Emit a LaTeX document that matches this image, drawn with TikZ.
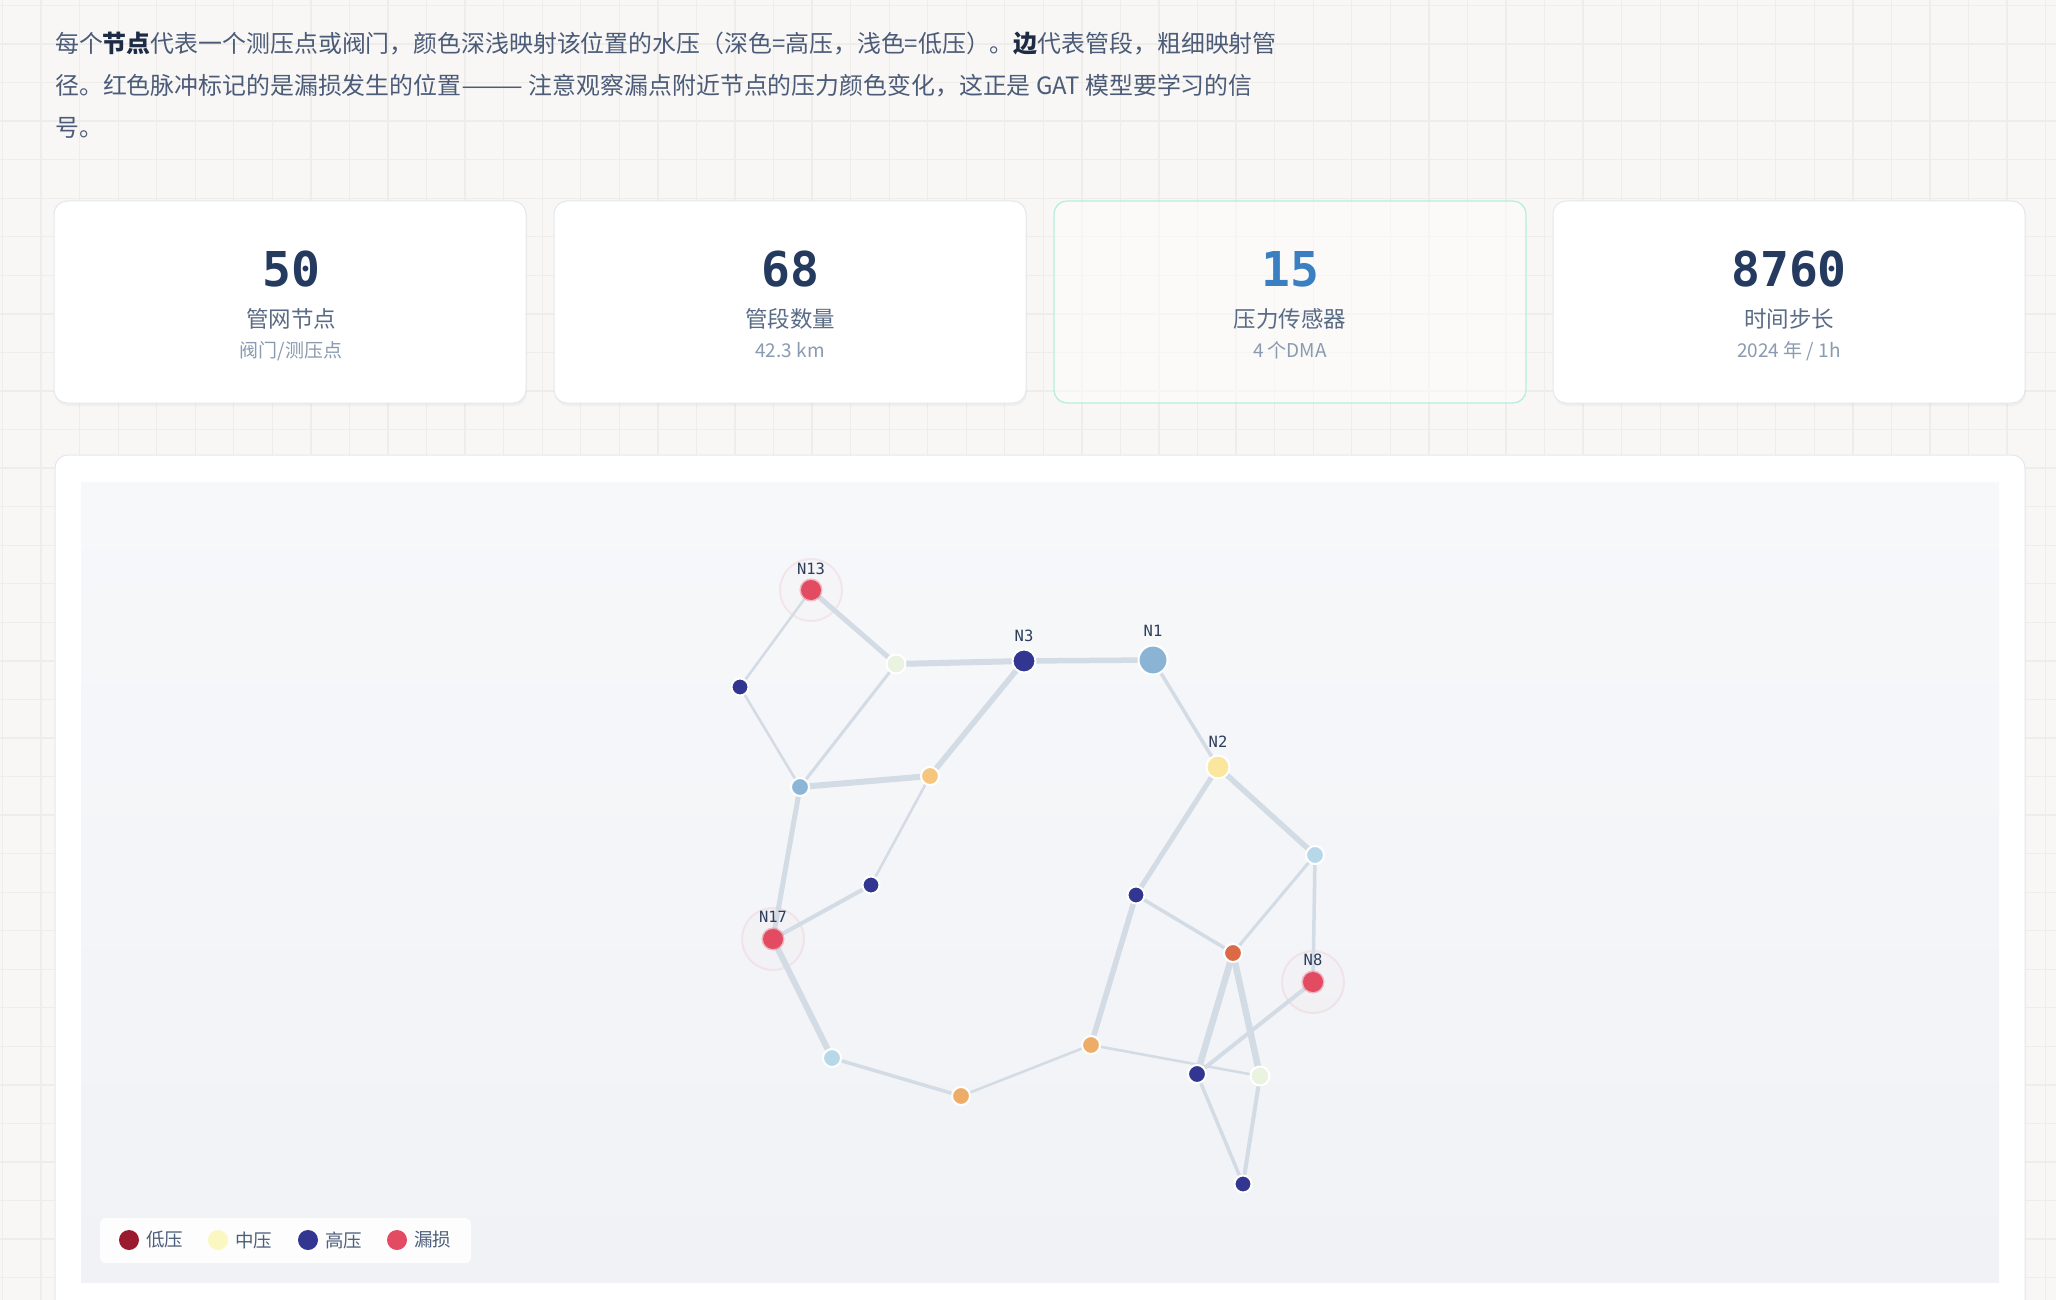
\documentclass[tikz,border=0pt]{standalone}
\usepackage{fontspec}
\usepackage{graphicx}
\setmainfont{Noto Sans CJK SC}
\newfontfamily\monofont{DejaVu Sans Mono}
\pgfdeclarelayer{back}
\pgfdeclarelayer{edgelayer}
\pgfsetlayers{back,edgelayer,main}
\definecolor{pagebg}{HTML}{F8F7F5}
\definecolor{gridc}{HTML}{EEEDEA}
\definecolor{paratext}{HTML}{4B5B78}
\definecolor{parabold}{HTML}{1E2B45}
\definecolor{cardborder}{HTML}{E3E8EE}
\definecolor{mint}{HTML}{B5EFE0}
\definecolor{numc}{HTML}{243A5E}
\definecolor{numblue}{HTML}{3A7FC1}
\definecolor{labc}{HTML}{5A6B85}
\definecolor{subc}{HTML}{8A9AB0}
\definecolor{paneltop}{HTML}{F7F8FA}
\definecolor{panelbot}{HTML}{F0F2F6}
\definecolor{edgec}{HTML}{D3DBE5}
\definecolor{nlab}{HTML}{2D3E5A}
\definecolor{darkb}{HTML}{323690}
\definecolor{paleg}{HTML}{E9F3DF}
\definecolor{steel}{HTML}{8BB3D3}
\definecolor{yel}{HTML}{FBE69E}
\definecolor{cblue}{HTML}{8DB6D6}
\definecolor{dor}{HTML}{F6C67F}
\definecolor{lblue}{HTML}{B6D8E8}
\definecolor{org}{HTML}{EEAC69}
\definecolor{redor}{HTML}{DC6A46}
\definecolor{leak}{HTML}{E24B62}
\definecolor{lowp}{HTML}{9B1B2E}
\definecolor{midp}{HTML}{FAF7C0}
\definecolor{legtext}{HTML}{4D5F7A}
\tikzset{
  gridline/.style={draw=gridc, line width=1.3pt},
  card/.style={fill=white, draw=cardborder, line width=1pt, rounded corners=13pt},
  numtext/.style={anchor=base, inner sep=0, text=numc, font=\monofont\bfseries\fontsize{48}{52}\selectfont},
  labtext/.style={anchor=base, inner sep=0, text=labc, font=\fontsize{22.5}{26}\selectfont},
  subtext/.style={anchor=base, inner sep=0, text=subc, font=\fontsize{19}{22}\selectfont},
  paraline/.style={anchor=base west, inner sep=0, text=paratext, font=\fontsize{23.9}{28}\selectfont},
  pnode/.style={circle, inner sep=0, draw=white, line width=2pt},
  leaknode/.style={circle, inner sep=0, fill=leak, draw=leak, draw opacity=0.35, line width=3pt, minimum size=20pt},
  halo/.style={draw=leak, draw opacity=0.09, line width=2pt, fill=leak, fill opacity=0.015},
  pipe/.style={draw=edgec, line cap=round},
  nodelabel/.style={anchor=center, inner sep=0, text=nlab, font=\monofont\fontsize{15.5}{18}\selectfont},
  legdot/.style={circle, inner sep=0, minimum size=20pt},
  legtxt/.style={anchor=west, inner sep=0, text=legtext, font=\fontsize{18.5}{22}\selectfont},
}
\begin{document}
\begin{tikzpicture}[x=1pt,y=-1pt]
\useasboundingbox (0,0) rectangle (2056,1300);
\begin{pgfonlayer}{back}
\fill[pagebg] (0,0) rectangle (2056,1300);
\foreach \i in {0,...,53} \draw[gridline] ({2.5+38.55*\i},0) -- ++(0,1300);
\foreach \j in {0,...,33} \draw[gridline] (0,{5.5+38.55*\j}) -- ++(2056,0);
% cards
\foreach \xa in {54,554,1553}{
  \fill[black, opacity=0.03, rounded corners=13pt] (\xa+1,203) rectangle ++(472,203);
  \draw[card] (\xa,201) rectangle ++(472,202);
}
\fill[white, fill opacity=0.45, rounded corners=13pt] (1054,201) rectangle ++(472,202);
\draw[mint, line width=1.3pt, rounded corners=13pt] (1054,201) rectangle ++(472,202);
% graph card
\fill[black, opacity=0.03, rounded corners=13pt] (56,457) rectangle (2026,1340);
\draw[card] (55,455) rectangle (2025,1340);
\shade[top color=paneltop, bottom color=panelbot] (81,482) rectangle (1999,1282);
\end{pgfonlayer}

% paragraph
\node[paraline] (p1) at (55,53) {每个{\color{parabold}\bfseries 节点}代表一个测压点或阀门，颜色深浅映射该位置的水压（深色=高压，浅色=低压）。{\color{parabold}\bfseries 边}代表管段，粗细映射管};
\node[paraline] (p2) at (55,95) {径。红色脉冲标记的是漏损发生的位置\scalebox{1.55}[1]{——} 注意观察漏点附近节点的压力颜色变化，这正是 GAT 模型要学习的信};
\node[paraline] (p3) at (55,137) {号。};

% stat cards
\node[numtext] (n1) at (291,286) {50};
\node[labtext] (l1) at (291,327) {管网节点};
\node[subtext] (s1) at (291,357) {阀门/测压点};
\node[numtext] (n2) at (790,286) {68};
\node[labtext] (l2) at (790,327) {管段数量};
\node[subtext] (s2) at (790,357) {42.3 km};
\node[numtext, text=numblue] (n3) at (1290,286) {15};
\node[labtext] (l3) at (1290,327) {压力传感器};
\node[subtext] (s3) at (1290,357) {4 个DMA};
\node[numtext] (n4) at (1789,286) {8760};
\node[labtext] (l4) at (1789,327) {时间步长};
\node[subtext] (s4) at (1789,357) {2024 年 / 1h};

% graph nodes
\node[leaknode] (N13) at (811,590) {};
\node[pnode, fill=darkb, minimum size=17pt] (A) at (740,687) {};
\node[pnode, fill=paleg, minimum size=19pt] (B) at (896,664) {};
\node[pnode, fill=darkb, minimum size=23pt] (N3) at (1024,661) {};
\node[pnode, fill=steel, minimum size=29pt] (N1) at (1153,660) {};
\node[pnode, fill=yel, minimum size=23pt] (N2) at (1218,767) {};
\node[pnode, fill=cblue, minimum size=18pt] (C) at (800,787) {};
\node[pnode, fill=dor, minimum size=18pt] (D) at (930,776) {};
\node[pnode, fill=darkb, minimum size=17pt] (E) at (871,885) {};
\node[leaknode] (N17) at (773,939) {};
\node[pnode, fill=lblue, minimum size=18pt] (F) at (832,1058) {};
\node[pnode, fill=org, minimum size=18pt] (G) at (961,1096) {};
\node[pnode, fill=org, minimum size=18pt] (H) at (1091,1045) {};
\node[pnode, fill=darkb, minimum size=17pt] (I) at (1136,895) {};
\node[pnode, fill=lblue, minimum size=18pt] (J) at (1315,855) {};
\node[pnode, fill=redor, minimum size=18pt] (K) at (1233,953) {};
\node[leaknode] (N8) at (1313,982) {};
\node[pnode, fill=darkb, minimum size=18pt] (L) at (1197,1074) {};
\node[pnode, fill=paleg, minimum size=19pt] (M) at (1260,1076) {};
\node[pnode, fill=darkb, minimum size=17pt] (O) at (1243,1184) {};

% labels
\node[nodelabel] (tN13) at (811,569) {N13};
\node[nodelabel] (tN3) at (1024,636) {N3};
\node[nodelabel] (tN1) at (1153,631) {N1};
\node[nodelabel] (tN2) at (1218,742) {N2};
\node[nodelabel] (tN17) at (773,917) {N17};
\node[nodelabel] (tN8) at (1313,960) {N8};

\begin{pgfonlayer}{edgelayer}
\foreach \h in {N13,N17,N8} \path[halo] (\h.center) circle (31);
\draw[pipe, line width=2.5pt] (N13) -- (A);
\draw[pipe, line width=5pt] (N13) -- (B);
\draw[pipe, line width=6pt] (B) -- (N3);
\draw[pipe, line width=5.5pt] (N3) -- (N1);
\draw[pipe, line width=2.5pt] (A) -- (C);
\draw[pipe, line width=3pt] (B) -- (C);
\draw[pipe, line width=6pt] (C) -- (D);
\draw[pipe, line width=5.5pt] (N3) -- (D);
\draw[pipe, line width=2.5pt] (D) -- (E);
\draw[pipe, line width=5pt] (C) -- (N17);
\draw[pipe, line width=4pt] (N17) -- (E);
\draw[pipe, line width=6pt] (N17) -- (F);
\draw[pipe, line width=3.5pt] (F) -- (G);
\draw[pipe, line width=2.5pt] (G) -- (H);
\draw[pipe, line width=5.5pt] (H) -- (I);
\draw[pipe, line width=3.5pt] (N1) -- (N2);
\draw[pipe, line width=5pt] (N2) -- (I);
\draw[pipe, line width=5.5pt] (N2) -- (J);
\draw[pipe, line width=3.5pt] (I) -- (K);
\draw[pipe, line width=3pt] (J) -- (K);
\draw[pipe, line width=3.5pt] (J) -- (N8);
\draw[pipe, line width=6.5pt] (K) -- (L);
\draw[pipe, line width=6.5pt] (K) -- (M);
\draw[pipe, line width=2.5pt] (H) -- (M);
\draw[pipe, line width=4pt] (L) -- (N8);
\draw[pipe, line width=3.5pt] (L) -- (O);
\draw[pipe, line width=4pt] (M) -- (O);
% legend box
\fill[white, fill opacity=0.9, rounded corners=6pt] (100,1218) rectangle (471,1263);
\end{pgfonlayer}

% legend
\node[legdot, fill=lowp] (d1) at (129,1240) {};
\node[legtxt] (t1) at (146,1240) {低压};
\node[legdot, fill=midp] (d2) at (218,1240) {};
\node[legtxt] (t2) at (235,1240) {中压};
\node[legdot, fill=darkb] (d3) at (308,1240) {};
\node[legtxt] (t3) at (325,1240) {高压};
\node[legdot, fill=leak] (d4) at (397,1240) {};
\node[legtxt] (t4) at (414,1240) {漏损};
\end{tikzpicture}
\end{document}
